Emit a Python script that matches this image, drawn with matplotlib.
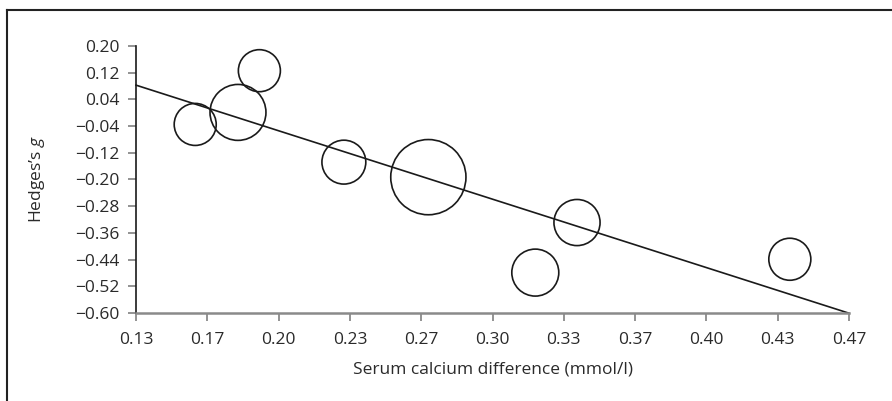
"""Meta-regression bubble plot: Hedges's g vs serum calcium difference."""

import matplotlib

matplotlib.use("Agg")
import matplotlib.pyplot as plt
import numpy as np
from matplotlib.lines import Line2D

# Study-level data
calcium_diff = [0.161, 0.181, 0.191, 0.2305, 0.270, 0.320, 0.3395, 0.439]
hedges_g = [-0.035, 0.001, 0.126, -0.148, -0.193, -0.479, -0.329, -0.439]
study_weight = [4.4, 7.8, 4.4, 4.8, 14.1, 5.5, 5.3, 4.4]

# Meta-regression line: g = intercept + slope * x
reg_intercept = 0.356
reg_slope = -2.05

x_ticks = np.linspace(0.4 / 3, 1.4 / 3, 11)
y_ticks = np.linspace(0.20, -0.60, 11)

plt.rcParams["font.family"] = ["Open Sans", "DejaVu Sans"]
plt.rcParams["mathtext.fontset"] = "custom"
plt.rcParams["mathtext.it"] = "Open Sans:italic"

fig = plt.figure(figsize=(8.92, 4.01), dpi=100)
ax = fig.add_axes([0.1525, 0.2195, 0.7993, 0.6658])

ax.scatter(calcium_diff, hedges_g, s=[w * 208 for w in study_weight],
           facecolors="none", edgecolors="#1a1a1a", linewidths=1.2, zorder=3)

xs = np.array([x_ticks[0], x_ticks[-1]])
ax.plot(xs, reg_intercept + reg_slope * xs, color="#1a1a1a", lw=1.2,
        clip_on=False, zorder=2)

ax.set_xlim(x_ticks[0], x_ticks[-1])
ax.set_ylim(-0.60, 0.20)
ax.set_xticks(x_ticks)
ax.set_xticklabels([f"{v:.2f}" for v in x_ticks])
ax.set_yticks(y_ticks)
ax.set_yticklabels([f"{v:.2f}".replace("-", "\u2212") for v in y_ticks])

for side in ("top", "right"):
    ax.spines[side].set_visible(False)
ax.spines["left"].set_color("#1a1a1a")
ax.spines["left"].set_linewidth(1.2)
ax.spines["bottom"].set_color("#8a8a8a")
ax.spines["bottom"].set_linewidth(1.8)

ax.tick_params(axis="both", colors="#8a8a8a", labelcolor="#2a2a2a",
               labelsize=12.5, length=6, width=1.3)
ax.tick_params(axis="x", pad=7.5)
ax.tick_params(axis="y", pad=6)

ax.set_xlabel("Serum calcium difference (mmol/l)", fontsize=12.5,
              color="#2a2a2a", labelpad=10)
ax.set_ylabel("Hedges\u2019s $g$", fontsize=12.5, color="#2a2a2a",
              labelpad=20)

# Outer frame (top and left edges only)
fig.add_artist(Line2D([7 / 892, 1.0], [1 - 10 / 401, 1 - 10 / 401],
                      transform=fig.transFigure, color="#222222", lw=1.5))
fig.add_artist(Line2D([7 / 892, 7 / 892], [0.0, 1 - 10 / 401],
                      transform=fig.transFigure, color="#222222", lw=1.5))

fig.savefig("out.png", dpi=100)
